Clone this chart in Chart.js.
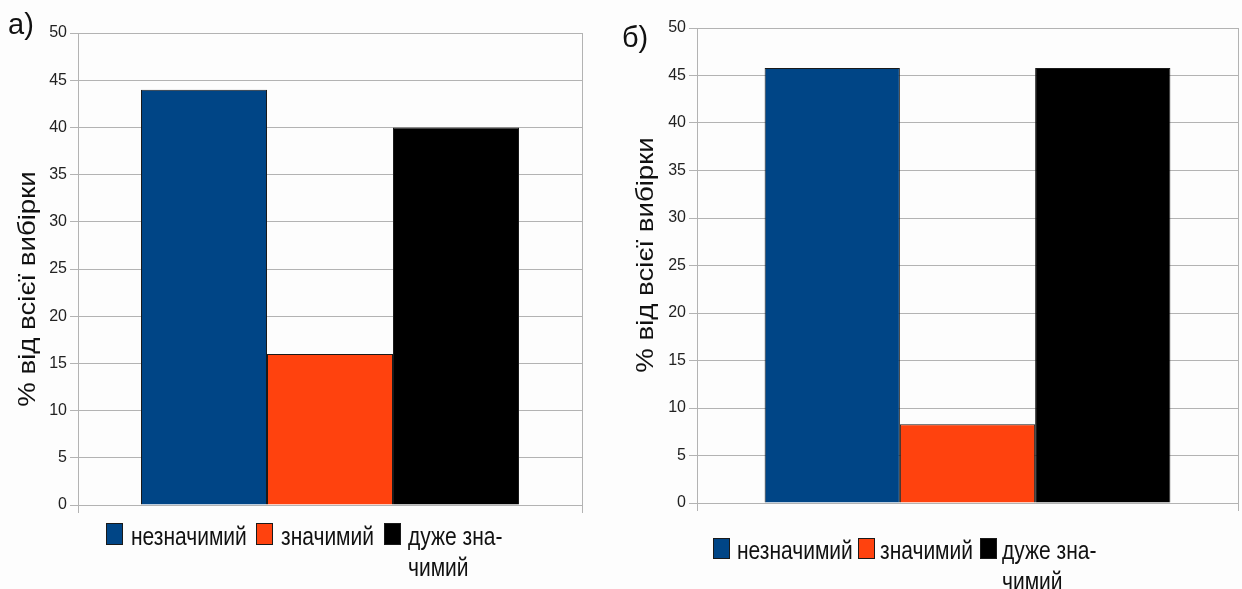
<!DOCTYPE html>
<html>
<head>
<meta charset="utf-8">
<script src="https://cdn.jsdelivr.net/npm/chart.js@4.4.1/dist/chart.umd.min.js"></script>
<style>
    body { margin: 0; background: #fdfdfd; width: 1242px; height: 589px; position: relative; overflow: hidden; font-family: "Liberation Sans", Arial, sans-serif; color: #111; }
    .box { position: absolute; top: 0; height: 589px; }
    .panel { position: absolute; font-size: 29px; line-height: 1; }
    .ytitle { position: absolute; font-size: 24px; white-space: nowrap; transform: translate(-50%, -50%) rotate(-90deg) scaleX(1.15); }
    .sq { position: absolute; border: 1px solid #1a1a1a; box-sizing: border-box; }
    .lt { position: absolute; font-size: 21px; line-height: 24.6px; white-space: nowrap; transform: scaleY(1.25); transform-origin: 0 19.2px; }
</style>
</head>
<body>
<div class="box" style="left:0;width:600px"><canvas id="chartA"></canvas></div>
<div class="box" style="left:615px;width:627px"><canvas id="chartB"></canvas></div>

<div class="panel" style="left:8px;top:10px">а)</div>
<div class="panel" style="left:622px;top:23px">б)</div>
<div class="ytitle" style="left:27px;top:289px">% від всієї вибірки</div>
<div class="ytitle" style="left:645px;top:255px">% від всієї вибірки</div>
<div id="legendA"></div>
<div id="legendB"></div>

<script>
// categories / series
const categories = ['незначимий', 'значимий', 'дуже зна-\nчимий'];
const colors = ['#004586', '#ff420e', '#000000'];
const valuesA = [44, 16, 40];
const valuesB = [45.8, 8.3, 45.8];
const yMax = 50;
const yStep = 5;

function makeChart(id, values, area) {
    const datasets = categories.map((name, i) => ({
        label: name,
        data: [values[i]],
        backgroundColor: colors[i],
        borderColor: '#1a1a1a',
        borderWidth: 1,
        barPercentage: 1,
        categoryPercentage: 0.75
    }));

    return new Chart(document.getElementById(id), {
        type: 'bar',
        data: { labels: [''], datasets: datasets },
        options: {
            responsive: true,
            maintainAspectRatio: false,
            animation: false,
            layout: { padding: { left: 0, top: area.top, right: area.right, bottom: 0 } },
            plugins: { legend: { display: false }, tooltip: { enabled: false } },
            scales: {
                x: {
                    grid: { color: '#b3b3b3', tickLength: 8, offset: true },
                    border: { color: '#b3b3b3' },
                    ticks: { display: false },
                    afterFit: (scale) => { scale.height = area.xHeight; }
                },
                y: {
                    min: 0,
                    max: yMax,
                    grid: { color: '#b3b3b3', tickLength: 8 },
                    border: { color: '#b3b3b3' },
                    ticks: {
                        stepSize: yStep,
                        padding: 3,
                        color: '#222',
                        font: { family: 'Liberation Sans', size: 16 }
                    },
                    afterFit: (scale) => { scale.width = area.yWidth; }
                }
            }
        }
    });
}

makeChart('chartA', valuesA, { top: 33, right: 18, xHeight: 84, yWidth: 78 });
makeChart('chartB', valuesB, { top: 28, right: 4, xHeight: 86, yWidth: 82 });

// HTML legends (the third label wraps onto two lines)
function buildLegend(id, items, baseline, sqTop, sqH) {
    const el = document.getElementById(id);
    items.forEach((it, i) => {
        const sq = document.createElement('div');
        sq.className = 'sq';
        sq.style.cssText = `left:${it.sq}px;top:${sqTop}px;width:17px;height:${sqH}px;background:${colors[i]}`;
        el.appendChild(sq);
        const t = document.createElement('div');
        t.className = 'lt';
        t.style.left = it.text + 'px';
        t.style.top = (baseline - 19.2) + 'px';
        t.innerHTML = categories[i].replace('\n', '<br>');
        el.appendChild(t);
    });
}

buildLegend('legendA', [{ sq: 106, text: 131 }, { sq: 256, text: 281 }, { sq: 384, text: 408 }], 545, 523, 22);
buildLegend('legendB', [{ sq: 713, text: 737 }, { sq: 858, text: 880 }, { sq: 980, text: 1002 }], 559, 538, 21);
</script>
</body>
</html>
